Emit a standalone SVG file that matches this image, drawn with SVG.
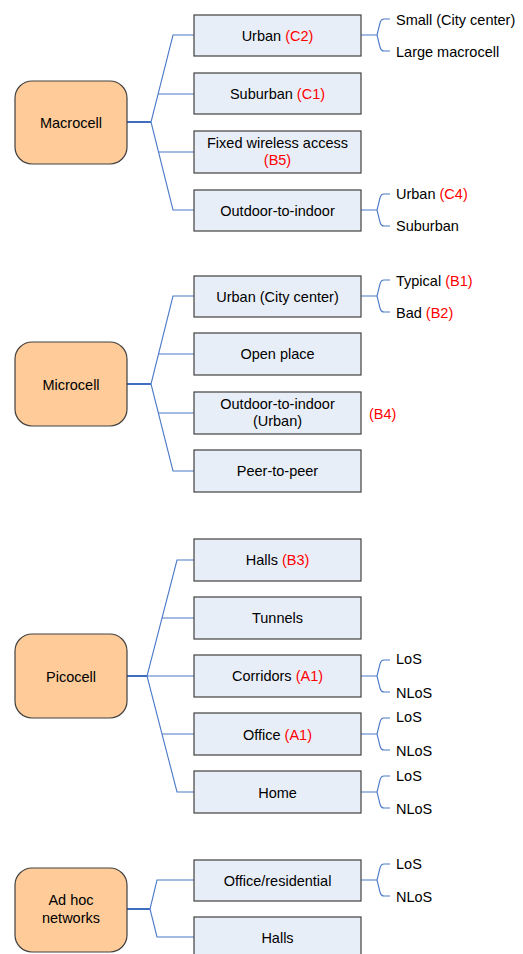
<svg xmlns="http://www.w3.org/2000/svg" width="523" height="954" viewBox="0 0 523 954">
<style>
.root{fill:#FFCC99;stroke:#404040;stroke-width:1.2}
.box{fill:#E8EEF8;stroke:#404040;stroke-width:1.2}
text{font-family:"Liberation Sans",Arial,sans-serif;font-size:14.5px;fill:#000}
.c{text-anchor:middle}
.r{fill:#FF0000}
.ln{fill:none;stroke:#4A78C8;stroke-width:1.1}
.stub{fill:none;stroke:#3F6DBF;stroke-width:2}
</style>
<rect width="523" height="954" fill="#fff"/>
<g id="connectors">
<path class="stub" d="M127,122H151"/>
<path class="ln" d="M194,35H173L151,122L173,210H194M158.1,94H194M158.5,152H194"/>
<path class="ln" d="M361,35H377M390,19H384Q381,19 380,23L377,35L380,47Q381,51 384,51H390"/>
<path class="ln" d="M361,210H377M390,194H384Q381,194 380,198L377,210L380,222Q381,226 384,226H390"/>
<path class="stub" d="M127,384H151"/>
<path class="ln" d="M194,296H173L151,384L173,471H194M158.5,354H194M158.3,413H194"/>
<path class="ln" d="M361,296H377M390,280H384Q381,280 380,284L377,296L380,308Q381,312 384,312H390"/>
<path class="stub" d="M127,676H147"/>
<path class="ln" d="M194,560H177L147,676L177,792H194M162,618H194M147,676H194M162,734H194"/>
<path class="ln" d="M361,676H377M390,660H384Q381,660 380,664L377,676L380,688Q381,692 384,692H390"/>
<path class="ln" d="M361,734H377M390,718H384Q381,718 380,722L377,734L380,746Q381,750 384,750H390"/>
<path class="ln" d="M361,792H377M390,776H384Q381,776 380,780L377,792L380,804Q381,808 384,808H390"/>
<path class="stub" d="M127,909H150"/>
<path class="ln" d="M194,880H157L150,909L157,937H194"/>
<path class="ln" d="M361,880H377M390,864H384Q381,864 380,868L377,880L380,892Q381,896 384,896H390"/>
</g>

<g id="macrocell">
<rect class="root" x="15" y="81" width="112" height="83" rx="17"/>
<text class="c" x="71" y="127.5">Macrocell</text>
</g>
<g id="macro-urban">
<rect class="box" x="194" y="15" width="167" height="41"/>
<text class="c" x="277.5" y="40.5">Urban <tspan class="r">(C2)</tspan></text>
</g>
<g id="macro-suburban">
<rect class="box" x="194" y="73" width="167" height="41"/>
<text class="c" x="277.5" y="98.5">Suburban <tspan class="r">(C1)</tspan></text>
</g>
<g id="macro-fixed">
<rect class="box" x="194" y="131" width="167" height="42"/>
<text class="c" x="277.5" y="148">Fixed wireless access</text>
<text class="c r" x="277.5" y="165">(B5)</text>
</g>
<g id="macro-o2i">
<rect class="box" x="194" y="190" width="167" height="41"/>
<text class="c" x="277.5" y="215.5">Outdoor-to-indoor</text>
</g>
<g id="macro-leaves">
<text x="396" y="24.5">Small (City center)</text>
<text x="396" y="56.5">Large macrocell</text>
<text x="396" y="198.5">Urban <tspan class="r">(C4)</tspan></text>
<text x="396" y="230.5">Suburban</text>
</g>

<g id="microcell">
<rect class="root" x="15" y="342" width="112" height="84" rx="17"/>
<text class="c" x="71" y="389.5">Microcell</text>
</g>
<g id="micro-urban">
<rect class="box" x="194" y="276" width="167" height="41"/>
<text class="c" x="277.5" y="301.5">Urban (City center)</text>
</g>
<g id="micro-open">
<rect class="box" x="194" y="333" width="167" height="42"/>
<text class="c" x="277.5" y="358.5">Open place</text>
</g>
<g id="micro-o2i">
<rect class="box" x="194" y="392" width="167" height="42"/>
<text class="c" x="277.5" y="408.5">Outdoor-to-indoor</text>
<text class="c" x="277.5" y="426">(Urban)</text>
</g>
<g id="micro-p2p">
<rect class="box" x="194" y="450" width="167" height="42"/>
<text class="c" x="277.5" y="475.5">Peer-to-peer</text>
</g>
<g id="micro-leaves">
<text x="396" y="285.5">Typical <tspan class="r">(B1)</tspan></text>
<text x="396" y="317.5">Bad <tspan class="r">(B2)</tspan></text>
<text class="r" x="369" y="418.5">(B4)</text>
</g>

<g id="picocell">
<rect class="root" x="15" y="634" width="112" height="84" rx="17"/>
<text class="c" x="71" y="681.5">Picocell</text>
</g>
<g id="pico-halls">
<rect class="box" x="194" y="539" width="167" height="42"/>
<text class="c" x="277.5" y="564.5">Halls <tspan class="r">(B3)</tspan></text>
</g>
<g id="pico-tunnels">
<rect class="box" x="194" y="597" width="167" height="42"/>
<text class="c" x="277.5" y="622.5">Tunnels</text>
</g>
<g id="pico-corridors">
<rect class="box" x="194" y="655" width="167" height="42"/>
<text class="c" x="277.5" y="680.5">Corridors <tspan class="r">(A1)</tspan></text>
</g>
<g id="pico-office">
<rect class="box" x="194" y="713" width="167" height="42"/>
<text class="c" x="277.5" y="739.5">Office <tspan class="r">(A1)</tspan></text>
</g>
<g id="pico-home">
<rect class="box" x="194" y="771" width="167" height="42"/>
<text class="c" x="277.5" y="797.5">Home</text>
</g>
<g id="pico-leaves">
<text x="396" y="663.5">LoS</text>
<text x="396" y="697.5">NLoS</text>
<text x="396" y="721.5">LoS</text>
<text x="396" y="755.5">NLoS</text>
<text x="396" y="780.5">LoS</text>
<text x="396" y="813.5">NLoS</text>
</g>

<g id="adhoc">
<rect class="root" x="15" y="868" width="112" height="84" rx="17"/>
<text class="c" x="71" y="905">Ad hoc</text>
<text class="c" x="71" y="923">networks</text>
</g>
<g id="adhoc-office">
<rect class="box" x="194" y="860" width="167" height="41"/>
<text class="c" x="277.5" y="885.5">Office/residential</text>
</g>
<g id="adhoc-halls">
<rect class="box" x="194" y="917" width="167" height="42"/>
<text class="c" x="277.5" y="942.5">Halls</text>
</g>
<g id="adhoc-leaves">
<text x="396" y="868.5">LoS</text>
<text x="396" y="901.5">NLoS</text>
</g>
</svg>
